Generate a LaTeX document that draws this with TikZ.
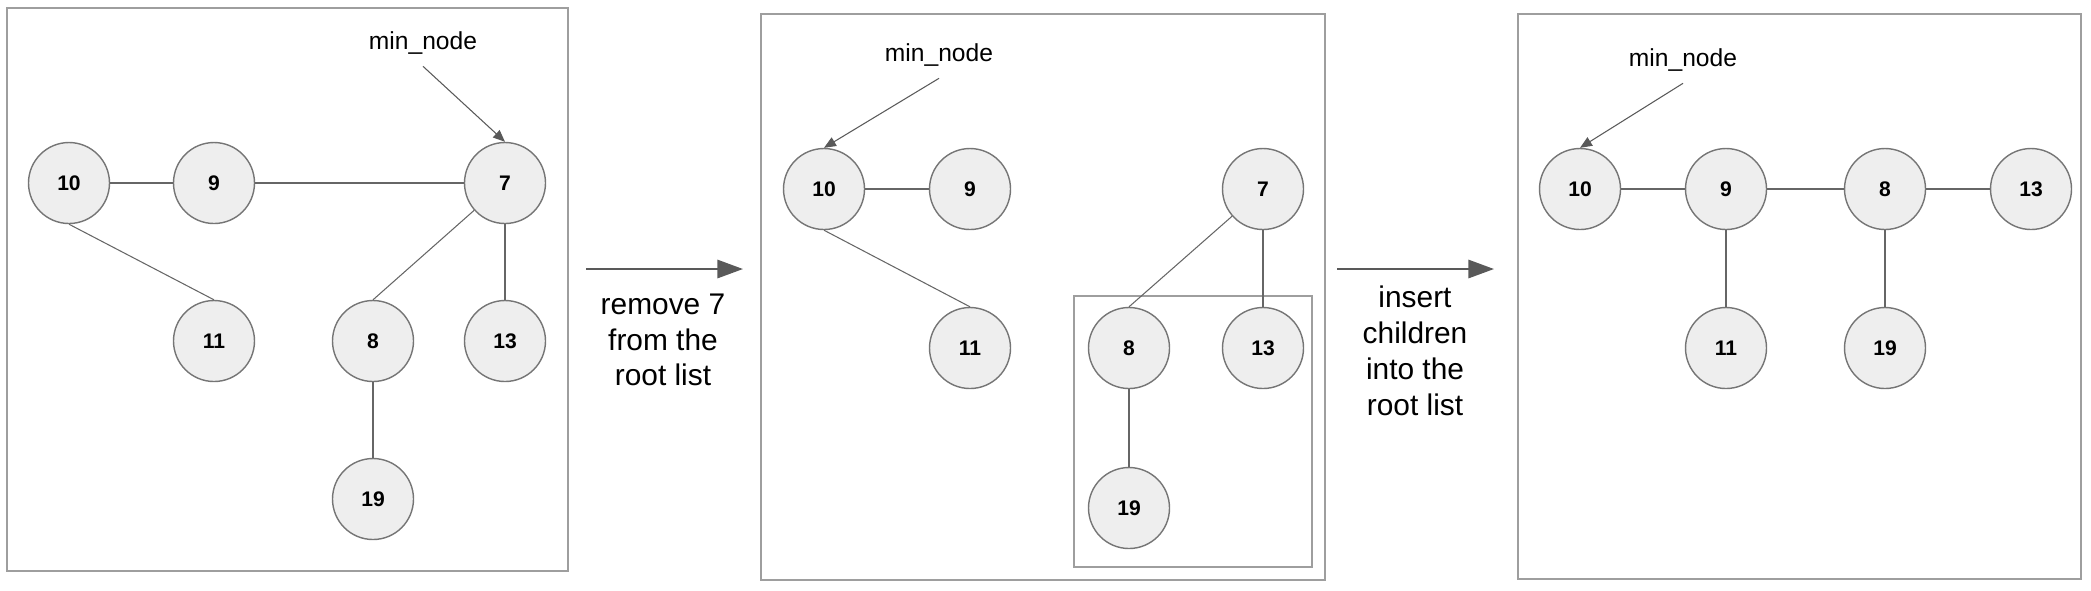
\documentclass[tikz,border=0pt]{standalone}
\usepackage{fontspec}
\setmainfont{Liberation Sans}
\usetikzlibrary{arrows.meta}

\definecolor{kreisgrau}{HTML}{EEEEEE}
\definecolor{randgrau}{HTML}{757575}
\definecolor{liniengrau}{HTML}{666666}
\definecolor{pfeilgrau}{HTML}{595959}
\definecolor{rahmengrau}{HTML}{9E9E9E}

\begin{document}
\begin{tikzpicture} [x = 0.1mm, y = -0.1mm,
        knoten/.style = {circle, draw = randgrau, line width = 0.4pt, fill = kreisgrau,
            minimum size = 8.1mm, inner sep = 0pt, font = \fontsize{6}{7}\selectfont\bfseries},
        kante/.style = {draw = liniengrau, line width = 0.3pt},
        rahmen/.style = {draw = rahmengrau, line width = 0.4pt},
        zeiger/.style = {draw = pfeilgrau, line width = 0.3pt, -{Triangle[length = 3.4pt, width = 2.8pt]}},
        schritt/.style = {draw = pfeilgrau, line width = 0.65pt, -{Triangle[length = 7.3pt, width = 5.2pt]}},
        minlabel/.style = {font = \fontsize{7}{8}\selectfont, anchor = base},
        beschriftung/.style = {align = center, font = \fontsize{8.5}{10.2}\selectfont}]
            \useasboundingbox (0, 0) rectangle (2091, 590);

            % Heap vorher
            \draw[rahmen] (7, 8) rectangle (568, 571);
            \node[knoten] (a10) at (69, 183)  {10};
            \node[knoten] (a9)  at (214, 183) {9};
            \node[knoten] (a7)  at (505, 183) {7};
            \node[knoten] (a11) at (214, 341) {11};
            \node[knoten] (a8)  at (373, 341) {8};
            \node[knoten] (a13) at (505, 341) {13};
            \node[knoten] (a19) at (373, 499) {19};
            \draw[kante] (a10) -- (a9) -- (a7);
            \draw[kante] (a10.south) -- (a11.north);
            \draw[kante] (a8.north) -- (a7);
            \draw[kante] (a7.south) -- (a13.north);
            \draw[kante] (a8.south) -- (a19.north);
            \node[minlabel] (amin) at (423, 49) {min\_node};
            \draw[zeiger] (amin.south) -- (a7.north);

            % Schritt 1
            \coordinate (s1a) at (586, 269);
            \coordinate (s1b) at (743, 269);
            \draw[schritt] (s1a) -- (s1b);
            \node[beschriftung] (t1) at (663, 340) {remove 7\\from the\\root list};

            % 7 entfernt
            \draw[rahmen] (761, 14) rectangle (1325, 580);
            \draw[rahmen] (1074, 296) rectangle (1312, 567);
            \node[knoten] (b10) at (824, 189)  {10};
            \node[knoten] (b9)  at (970, 189)  {9};
            \node[knoten] (b7)  at (1263, 189) {7};
            \node[knoten] (b11) at (970, 348)  {11};
            \node[knoten] (b8)  at (1129, 348) {8};
            \node[knoten] (b13) at (1263, 348) {13};
            \node[knoten] (b19) at (1129, 508) {19};
            \draw[kante] (b10) -- (b9);
            \draw[kante] (b10.south) -- (b11.north);
            \draw[kante] (b8.north) -- (b7);
            \draw[kante] (b7.south) -- (b13.north);
            \draw[kante] (b8.south) -- (b19.north);
            \node[minlabel] (bmin) at (939, 61) {min\_node};
            \draw[zeiger] (bmin.south) -- (b10.north);

            % Schritt 2
            \coordinate (s2a) at (1337, 269);
            \coordinate (s2b) at (1494, 269);
            \draw[schritt] (s2a) -- (s2b);
            \node[beschriftung] (t2) at (1415, 351) {insert\\children\\into the\\root list};

            % Heap nachher
            \draw[rahmen] (1518, 14) rectangle (2081, 579);
            \node[knoten] (c10) at (1580, 189) {10};
            \node[knoten] (c9)  at (1726, 189) {9};
            \node[knoten] (c8)  at (1885, 189) {8};
            \node[knoten] (c13) at (2031, 189) {13};
            \node[knoten] (c11) at (1726, 348) {11};
            \node[knoten] (c19) at (1885, 348) {19};
            \draw[kante] (c10) -- (c9) -- (c8) -- (c13);
            \draw[kante] (c9.south) -- (c11.north);
            \draw[kante] (c8.south) -- (c19.north);
            \node[minlabel] (cmin) at (1683, 66) {min\_node};
            \draw[zeiger] (cmin.south) -- (c10.north);
        \end{tikzpicture}
\end{document}
